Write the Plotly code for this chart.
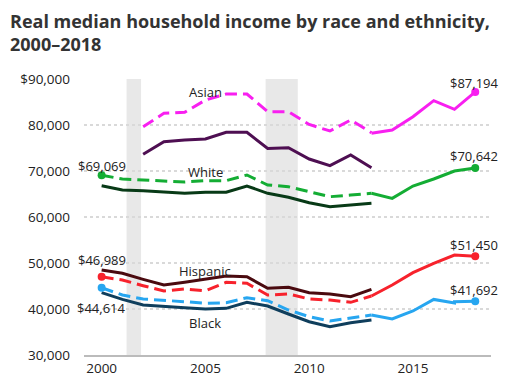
import plotly.graph_objects as go

years_old = list(range(2000, 2014))
years_asian_old = list(range(2002, 2014))
years_new = [2013, 2014, 2015, 2016, 2017, 2018]
years_new_black = [2013, 2014, 2015, 2016, 2017, 2017, 2018]

# Asian
asian_old_solid = [73630, 76370, 76739, 76957, 78413, 78413, 74913, 75065, 72609, 71159, 73478, 70725]
asian_old_dash = [79638, 82536, 82750, 85435, 86739, 86739, 82900, 82900, 80114, 78700, 81087, 78333]
asian_new = [78196, 78913, 81807, 85290, 83406, 87194]
# White
white_old_solid = [66804, 65870, 65717, 65370, 65152, 65370, 65370, 66739, 65152, 64283, 63109, 62239, 62609, 62978]
white_old_dash = [69069, 68261, 68043, 67826, 67609, 67891, 67891, 69130, 66957, 66587, 65500, 64413, 64783, 65152]
white_new = [65152, 64057, 66739, 68261, 70000, 70642]
# Hispanic
hisp_old_solid = [48478, 47754, 46446, 45217, 45804, 46446, 47174, 47022, 44493, 44710, 43551, 43261, 42681, 44275]
hisp_old_dash = [46989, 46304, 45065, 43913, 44348, 43978, 45804, 45587, 43043, 43261, 42174, 41957, 41449, 42826]
hisp_new = [42826, 45217, 47891, 49935, 51739, 51450]
# Black
black_old_solid = [43551, 42087, 40870, 40652, 40283, 40000, 40144, 41449, 40652, 38913, 37239, 36152, 37022, 37609]
black_old_dash = [44614, 43043, 42174, 41804, 41587, 41239, 41370, 42457, 41804, 39783, 38333, 37391, 38116, 38696]
black_new = [38696, 37826, 39565, 42087, 41300, 41600, 41692]

recessions = [(2001.2, 2001.9), (2007.9, 2009.45)]

y_ticks = [30000, 40000, 50000, 60000, 70000, 80000, 90000]
y_tick_text = ["30,000", "40,000", "50,000", "60,000", "70,000", "80,000", "$90,000"]
x_ticks = [2000, 2005, 2010, 2015]

group_labels = ["Asian", "White", "Hispanic", "Black"]
group_label_y = [87174, 69783, 48261, 36957]

title_text = "<b>Real median household income by race and ethnicity,<br>2000–2018</b>"

FONT = "Open Sans, sans-serif"
DASH = "12px,6px"

fig = go.Figure()

def line(x, y, color, dash="solid"):
    fig.add_trace(go.Scatter(x=x, y=y, mode="lines",
                             line=dict(color=color, width=3, dash=dash),
                             hoverinfo="skip", showlegend=False))

def end_marker(x, y, color):
    fig.add_trace(go.Scatter(x=[x], y=[y], mode="markers",
                             marker=dict(color=color, size=8),
                             hoverinfo="skip", showlegend=False))

# Asian
line(years_asian_old, asian_old_dash, "#f81ff0", DASH)
line(years_asian_old, asian_old_solid, "#4e0f52")
line(years_new, asian_new, "#f81ff0")
end_marker(years_new[-1], asian_new[-1], "#f81ff0")
# White
line(years_old, white_old_dash, "#14ad34", DASH)
line(years_old, white_old_solid, "#083a17")
line(years_new, white_new, "#14ad34")
end_marker(years_old[0], white_old_dash[0], "#14ad34")
end_marker(years_new[-1], white_new[-1], "#14ad34")
# Hispanic
line(years_old, hisp_old_dash, "#f7222c", DASH)
line(years_old, hisp_old_solid, "#4a0a0f")
line(years_new, hisp_new, "#f7222c")
end_marker(years_old[0], hisp_old_dash[0], "#f7222c")
end_marker(years_new[-1], hisp_new[-1], "#f7222c")
# Black
line(years_old, black_old_dash, "#27a6f0", DASH)
line(years_old, black_old_solid, "#0f3e5c")
line(years_new_black, black_new, "#27a6f0")
end_marker(years_old[0], black_old_dash[0], "#27a6f0")
end_marker(years_new_black[-1], black_new[-1], "#27a6f0")

shapes = []
for x0, x1 in recessions:
    shapes.append(dict(type="rect", xref="x", yref="paper", x0=x0, x1=x1, y0=0, y1=1,
                       fillcolor="#e8e8e8", line=dict(width=0), layer="below"))

font_lbl = dict(family=FONT, size=13, color="#222222")
annotations = []
for name, yv in zip(group_labels, group_label_y):
    annotations.append(dict(x=2005, y=yv, text=name, showarrow=False, font=font_lbl,
                            xanchor="center", yanchor="middle"))

def val_label(x, y, yshift, xshift=0):
    annotations.append(dict(x=x, y=y, text="${:,}".format(y), showarrow=False, font=font_lbl,
                            xanchor="center", yanchor="middle", yshift=yshift, xshift=xshift))

val_label(years_old[0], white_old_dash[0], 9, 0)
val_label(years_old[0], hisp_old_dash[0], 17, 0)
val_label(years_old[0], black_old_dash[0], -20, 0)
val_label(years_new[-1], asian_new[-1], 9, -1)
val_label(years_new[-1], white_new[-1], 12, -1)
val_label(years_new[-1], hisp_new[-1], 11, -1)
val_label(years_new_black[-1], black_new[-1], 11, -1)

# title as paper annotation
annotations.append(dict(xref="paper", yref="paper", x=-76 / 407, y=1 + 72 / 276,
                        xanchor="left", yanchor="top", align="left", showarrow=False,
                        text=title_text,
                        font=dict(family=FONT, size=18, color="#333333")))

fig.update_layout(
    width=517, height=380,
    margin=dict(l=84, r=26, t=79, b=25, autoexpand=False),
    plot_bgcolor="white", paper_bgcolor="white",
    shapes=shapes,
    annotations=annotations,
    xaxis=dict(range=[1999.15, 2018.76], tickvals=x_ticks, showgrid=False,
               showline=True, linecolor="#bbbbbb", linewidth=1.5, ticks="",
               zeroline=False, automargin=False,
               tickfont=dict(family=FONT, size=13.5, color="#222222")),
    yaxis=dict(range=[30000, 90000], tickvals=y_ticks, ticktext=y_tick_text,
               showgrid=True, gridcolor="#d9d9d9", griddash="dot", gridwidth=1.5,
               zeroline=False, showline=False, ticks="", ticklabelstandoff=13,
               automargin=False,
               tickfont=dict(family=FONT, size=13.5, color="#222222")),
)

fig.write_html("out.html", config={"displayModeBar": False},
               post_script="document.body.style.margin='0';document.body.style.padding='0';")
